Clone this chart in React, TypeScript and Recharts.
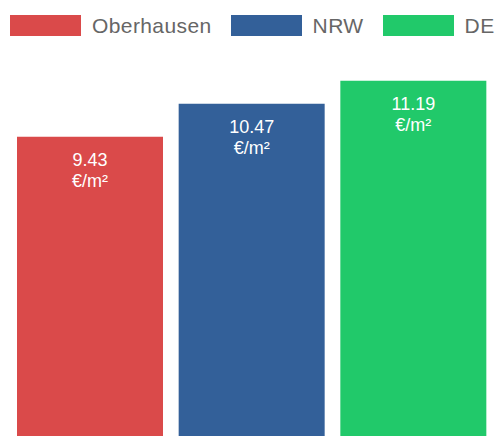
import { Bar, BarChart, Cell, LabelList, XAxis, YAxis } from 'recharts'

const regions = ['Oberhausen', 'NRW', 'DE']
const rents = [9.43, 10.47, 11.19]
const colors = ['#da4a4a', '#336099', '#21c96a']
const unit = '€/m²'

const chartData = regions.map((name, i) => ({ name, value: rents[i] }))

function ValueLabel(props: any) {
  const { x, y, width, value } = props
  const cx = x + width / 2
  const textProps = {
    textAnchor: 'middle' as const,
    fill: '#ffffff',
    fontFamily: '"Liberation Sans", Arial, sans-serif',
    fontSize: 18,
  }
  return (
    <g>
      <text x={cx} y={y + 29} {...textProps}>
        {Number(value).toFixed(2)}
      </text>
      <text x={cx} y={y + 50} {...textProps}>
        {unit}
      </text>
    </g>
  )
}

function LegendRow() {
  return (
    <div
      style={{
        position: 'absolute',
        top: 15,
        left: 10,
        display: 'flex',
        alignItems: 'center',
        fontFamily: '"Liberation Sans", Arial, sans-serif',
        fontSize: 21,
        letterSpacing: 0.4,
        color: '#666666',
        whiteSpace: 'nowrap',
      }}
    >
      {regions.map((name, i) => (
        <div key={name} style={{ display: 'flex', alignItems: 'center', marginRight: 19 }}>
          <span style={{ display: 'inline-block', width: 71, height: 21, background: colors[i] }} />
          <span style={{ marginLeft: 11, lineHeight: '21px' }}>{name}</span>
        </div>
      ))}
    </div>
  )
}

export default function App() {
  return (
    <div style={{ position: 'absolute', top: 0, left: 0, width: 497, height: 436, overflow: 'hidden', background: '#fff' }}>
      <LegendRow />
      <BarChart
        width={497}
        height={440}
        data={chartData}
        margin={{ top: 55, right: 3, bottom: 3, left: 9 }}
      >
        <XAxis dataKey='name' hide />
        <YAxis hide domain={[0, 12]} />
        <Bar dataKey='value' barSize={146} isAnimationActive={false}>
          {chartData.map((d, i) => (
            <Cell key={d.name} fill={colors[i]} />
          ))}
          <LabelList dataKey='value' content={<ValueLabel />} />
        </Bar>
      </BarChart>
    </div>
  )
}
